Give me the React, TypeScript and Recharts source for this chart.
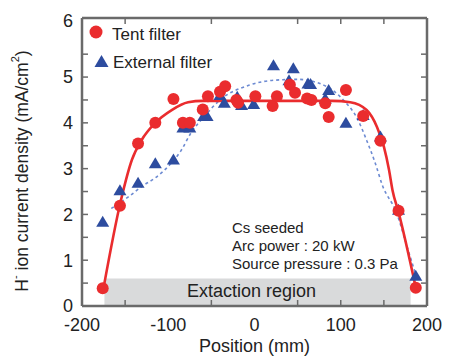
import { ComposedChart, Scatter, Line, XAxis, YAxis, ReferenceArea, Label } from 'recharts';

// measured points, position (mm) / H- current density (mA/cm2)
const tentPos = [-176, -156, -135, -115, -94, -83, -75, -60, -54, -40, -34, -21, -19, 1, 21, 26, 41, 47, 61, 66, 82, 86, 106, 126, 146, 167, 187];
const tentVal = [0.39, 2.19, 3.55, 4.0, 4.52, 4.0, 4.0, 4.29, 4.58, 4.68, 4.8, 4.5, 4.44, 4.58, 4.37, 4.58, 4.83, 4.66, 4.53, 4.5, 4.43, 4.13, 4.72, 4.15, 3.61, 2.08, 0.4];

const extPos = [-176, -156, -135, -115, -94, -83, -75, -59, -55, -40, -35, -20, -15, -1, 22, 40, 45, 62, 65, 82, 86, 106, 126, 146, 167, 187];
const extVal = [1.84, 2.53, 2.69, 3.12, 3.2, 3.9, 3.9, 4.15, 4.15, 4.61, 4.44, 4.57, 4.39, 4.41, 5.26, 4.93, 5.19, 4.86, 4.85, 4.53, 4.72, 4.0, 4.17, 3.7, 2.1, 0.66];

// fitted curves
const tentFitPos = [-175, -155, -142, -131, -115, -96, -77, -60, 0, 90, 111, 130, 142, 150, 156, 160, 167, 187];
const tentFitVal = [0.4, 2.3, 3.2, 3.62, 4.0, 4.28, 4.45, 4.48, 4.48, 4.48, 4.45, 4.28, 3.91, 3.48, 2.97, 2.53, 2.05, 0.4];

const extFitPos = [-166, -145, -130, -115, -100, -85, -73, -60, -40, -5, 22, 50, 84, 103, 119, 130, 140, 148, 165, 177, 187];
const extFitVal = [2.13, 2.4, 2.62, 2.8, 3.05, 3.4, 3.8, 4.1, 4.5, 4.83, 4.93, 4.95, 4.79, 4.5, 4.1, 3.62, 3.12, 2.65, 2.02, 1.29, 0.68];

const xTicks = [-200, -100, 0, 100, 200];
const xMinorTicks = [-150, -50, 50, 100, 150];
const yTicks = [0, 1, 2, 3, 4, 5, 6];
const yMinorTicks = [0.5, 1, 1.5, 2, 2.5, 3, 3.5, 4, 4.5, 5, 5.5];

const tentData = tentPos.map((x, i) => ({ x, y: tentVal[i] }));
const extData = extPos.map((x, i) => ({ x, y: extVal[i] }));
const tentFit = tentFitPos.map((x, i) => ({ x, y: tentFitVal[i] }));
const extFit = extFitPos.map((x, i) => ({ x, y: extFitVal[i] }));

const RED = '#ea2c2e';
const BLUE = '#2d4c9f';
const BLUE_LINE = '#6c8ad2';
const FRAME = '#6a6a6a';
const TEXT = '#222';
const FONT = '"Liberation Sans", Arial, Helvetica, sans-serif';
const X_DOMAIN: [number, number] = [-200, 200];
const Y_DOMAIN: [number, number] = [0, 6.29];
const noLabel = () => '';

function RedDot(props: any) {
  return <circle cx={props.cx} cy={props.cy} r={6} fill={RED} />;
}

function BlueTri(props: any) {
  const { cx, cy } = props;
  return <polygon points={`${cx},${cy - 6} ${cx - 6.5},${cy + 5} ${cx + 6.5},${cy + 5}`} fill={BLUE} />;
}

function YTick({ x, y, payload }: any) {
  // the "6" label sits at the top of the frame in the original
  const shift = payload.value === 6 ? -11 : 0;
  return (
    <text x={x} y={y + shift} dy="0.35em" textAnchor="end" fontSize={18} fill={TEXT} fontFamily={FONT}>
      {payload.value}
    </text>
  );
}

function YTitle({ viewBox }: any) {
  const cx = viewBox.x + 22;
  const cy = viewBox.y + viewBox.height / 2 + 9;
  return (
    <text
      x={cx}
      y={cy}
      transform={`rotate(-90 ${cx} ${cy})`}
      textAnchor="middle"
      dominantBaseline="central"
      fontSize={17.5}
      fill={TEXT}
      fontFamily={FONT}
    >
      H<tspan dy={-7} fontSize={11}>-</tspan>
      <tspan dy={7}> ion current density (mA/cm</tspan>
      <tspan dy={-7} fontSize={11}>2</tspan>
      <tspan dy={7}>)</tspan>
    </text>
  );
}

export default function App() {
  return (
    <div style={{ position: 'absolute', left: 0, top: 0, background: '#fff' }}>
      <ComposedChart width={449} height={356} margin={{ top: 18, right: 22, bottom: 0, left: 0 }}>
        <XAxis
          xAxisId={0}
          type="number"
          dataKey="x"
          domain={X_DOMAIN}
          ticks={xTicks}
          tickLine={false}
          tickSize={0}
          tickMargin={12}
          axisLine={{ stroke: FRAME, strokeWidth: 2.5 }}
          tick={{ fontSize: 18, fill: TEXT, fontFamily: FONT }}
          height={50}
          allowDataOverflow
        >
          <Label value="Position (mm)" position="insideBottom" offset={4} fontSize={18} fill={TEXT} fontFamily={FONT} />
        </XAxis>
        <XAxis xAxisId="bm" type="number" dataKey="x" domain={X_DOMAIN} ticks={xMinorTicks} mirror tickFormatter={noLabel} tickSize={6}
          tickLine={{ stroke: FRAME, strokeWidth: 1.5 }} axisLine={false} height={1} allowDataOverflow />
        <XAxis xAxisId="top" orientation="top" type="number" dataKey="x" domain={X_DOMAIN} ticks={xMinorTicks} mirror tickFormatter={noLabel} tickSize={6}
          tickLine={{ stroke: FRAME, strokeWidth: 1.5 }} axisLine={{ stroke: FRAME, strokeWidth: 2.5 }} height={1} allowDataOverflow />

        <YAxis
          yAxisId={0}
          type="number"
          domain={Y_DOMAIN}
          ticks={yTicks}
          tickLine={false}
          tickSize={0}
          tickMargin={9}
          tick={<YTick />}
          axisLine={{ stroke: FRAME, strokeWidth: 2.5 }}
          width={82}
          allowDataOverflow
        >
          <Label content={<YTitle />} />
        </YAxis>
        <YAxis yAxisId="lm" type="number" domain={Y_DOMAIN} ticks={yMinorTicks} mirror tickFormatter={noLabel} tickSize={6}
          tickLine={{ stroke: FRAME, strokeWidth: 1.5 }} axisLine={false} width={1} allowDataOverflow />
        <YAxis yAxisId="right" orientation="right" type="number" domain={Y_DOMAIN} ticks={yMinorTicks} mirror tickFormatter={noLabel} tickSize={6}
          tickLine={{ stroke: FRAME, strokeWidth: 1.5 }} axisLine={{ stroke: FRAME, strokeWidth: 2.5 }} width={1} allowDataOverflow />

        <ReferenceArea x1={-174} x2={181} y1={0} y2={0.6} fill="#d9dadb" fillOpacity={1} stroke="none">
          <Label value="Extaction region" position="center" dx={-6} dy={-2} fontSize={18} fill={TEXT} fontFamily={FONT} />
        </ReferenceArea>

        {/* fits ride on the frame axes so those get drawn; domains are identical */}
        <Line data={extFit} dataKey="y" xAxisId="top" yAxisId="right" type="monotone" stroke={BLUE_LINE} strokeWidth={1.6}
          strokeDasharray="3 3" dot={false} activeDot={false} isAnimationActive={false} />
        <Scatter data={extData} dataKey="y" shape={<BlueTri />} isAnimationActive={false} />
        <Line data={tentFit} dataKey="y" xAxisId="bm" yAxisId="lm" type="monotone" stroke={RED} strokeWidth={2.6}
          dot={false} activeDot={false} isAnimationActive={false} />
        <Scatter data={tentData} dataKey="y" shape={<RedDot />} isAnimationActive={false} />

        <g fontFamily={FONT} fill={TEXT}>
          <circle cx={96} cy={32} r={6.5} fill={RED} />
          <text x={112} y={40} fontSize={17}>Tent filter</text>
          <polygon points="101.5,55 94.5,67 108.5,67" fill={BLUE} />
          <text x={113} y={68} fontSize={17}>External filter</text>
          <text x={232} y={233} fontSize={15}>Cs seeded</text>
          <text x={232} y={251} fontSize={15}>Arc power : 20 kW</text>
          <text x={232} y={269} fontSize={15}>Source pressure : 0.3 Pa</text>
        </g>
      </ComposedChart>
    </div>
  );
}
